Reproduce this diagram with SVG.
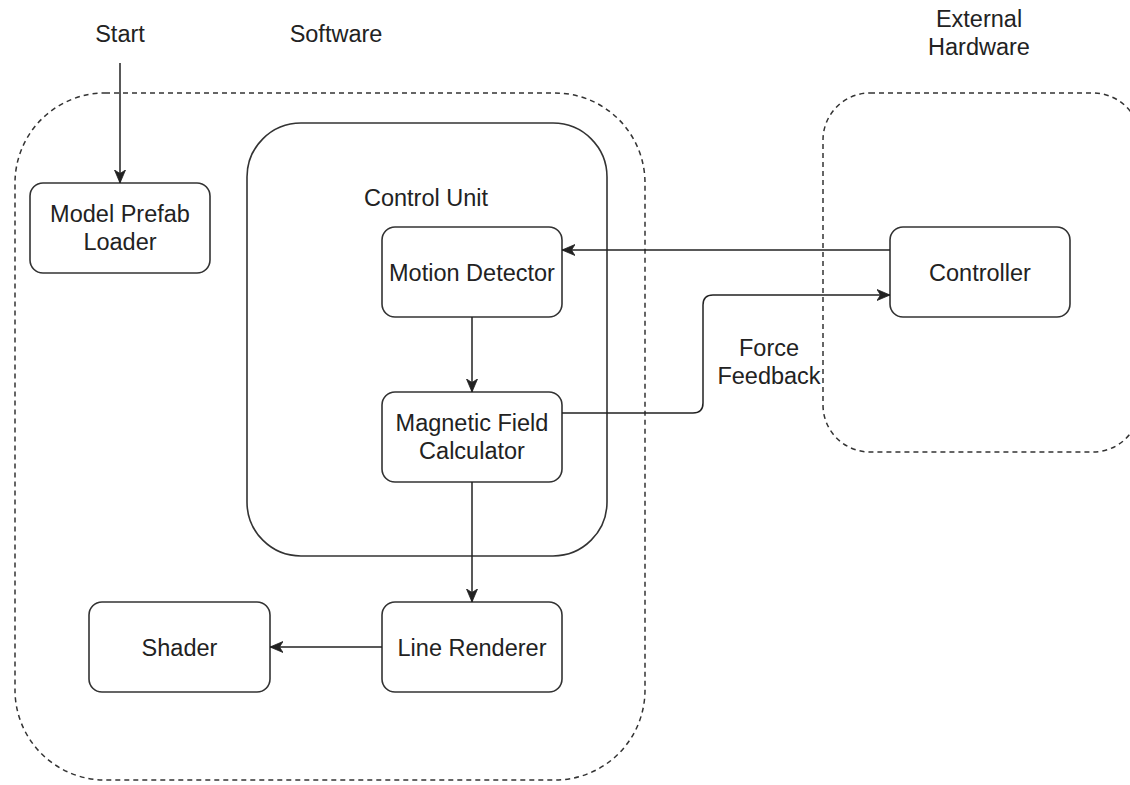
<svg xmlns="http://www.w3.org/2000/svg" width="1130" height="785" viewBox="0 0 1130 785">
<style>
  .bg { fill: #ffffff; }
  .container { fill: none; stroke: #333333; stroke-width: 1.5; stroke-dasharray: 5 4; }
  .group { fill: none; stroke: #333333; stroke-width: 1.6; }
  .node { fill: #ffffff; stroke: #333333; stroke-width: 1.6; }
  .label { font-family: "Liberation Sans", Arial, sans-serif; font-size: 23.5px; fill: #222222; text-anchor: middle; }
  .edge { fill: none; stroke: #222222; stroke-width: 1.5; }
</style>
<defs>
  <marker id="arrow" markerUnits="userSpaceOnUse" markerWidth="14" markerHeight="12" refX="13" refY="6" orient="auto">
    <path d="M0,0.5 L13,6 L0,11.5 L3.5,6 Z" fill="#222222" stroke="#222222" stroke-width="0.8" stroke-linejoin="miter"/>
  </marker>
</defs>
<rect class="bg" x="0" y="0" width="1130" height="785"/>

<g id="software-container">
  <rect class="container" x="15" y="93" width="630" height="687" rx="90" ry="90"/>
  <text class="label" x="336" y="42">Software</text>
</g>
<g id="external-hardware-container">
  <rect class="container" x="823" y="93" width="317" height="359" rx="47" ry="47"/>
  <text class="label" x="979" y="27">External</text>
  <text class="label" x="979" y="55">Hardware</text>
</g>
<g id="control-unit">
  <rect class="group" x="247" y="123" width="360" height="433" rx="54" ry="54"/>
  <text class="label" x="426" y="206">Control Unit</text>
</g>
<g id="start">
  <text class="label" x="120" y="42">Start</text>
</g>
<g id="model-prefab-loader">
  <rect class="node" x="30" y="183" width="180" height="90" rx="13" ry="13"/>
  <text class="label" x="120" y="222">Model Prefab</text>
  <text class="label" x="120" y="250">Loader</text>
</g>
<g id="motion-detector">
  <rect class="node" x="382" y="227" width="180" height="90" rx="13" ry="13"/>
  <text class="label" x="472" y="281">Motion Detector</text>
</g>
<g id="magnetic-field-calculator">
  <rect class="node" x="382" y="392" width="180" height="90" rx="13" ry="13"/>
  <text class="label" x="472" y="431">Magnetic Field</text>
  <text class="label" x="472" y="459">Calculator</text>
</g>
<g id="controller">
  <rect class="node" x="890" y="227" width="180" height="90" rx="13" ry="13"/>
  <text class="label" x="980" y="281">Controller</text>
</g>
<g id="line-renderer">
  <rect class="node" x="382" y="602" width="180" height="90" rx="13" ry="13"/>
  <text class="label" x="472" y="656">Line Renderer</text>
</g>
<g id="shader">
  <rect class="node" x="89" y="602" width="181" height="90" rx="13" ry="13"/>
  <text class="label" x="179.5" y="656">Shader</text>
</g>

<g id="connectors">
  <path class="edge" d="M120,63 V183" marker-end="url(#arrow)"/>
  <path class="edge" d="M890,250 H562" marker-end="url(#arrow)"/>
  <path class="edge" d="M472,317 V392" marker-end="url(#arrow)"/>
  <path class="edge" d="M562,413 H693 Q703,413 703,403 V305 Q703,295 713,295 H890" marker-end="url(#arrow)"/>
  <path class="edge" d="M472,482 V602" marker-end="url(#arrow)"/>
  <path class="edge" d="M382,647 H270" marker-end="url(#arrow)"/>
  <text class="label" x="769" y="356">Force</text>
  <text class="label" x="769" y="384">Feedback</text>
</g>
</svg>
